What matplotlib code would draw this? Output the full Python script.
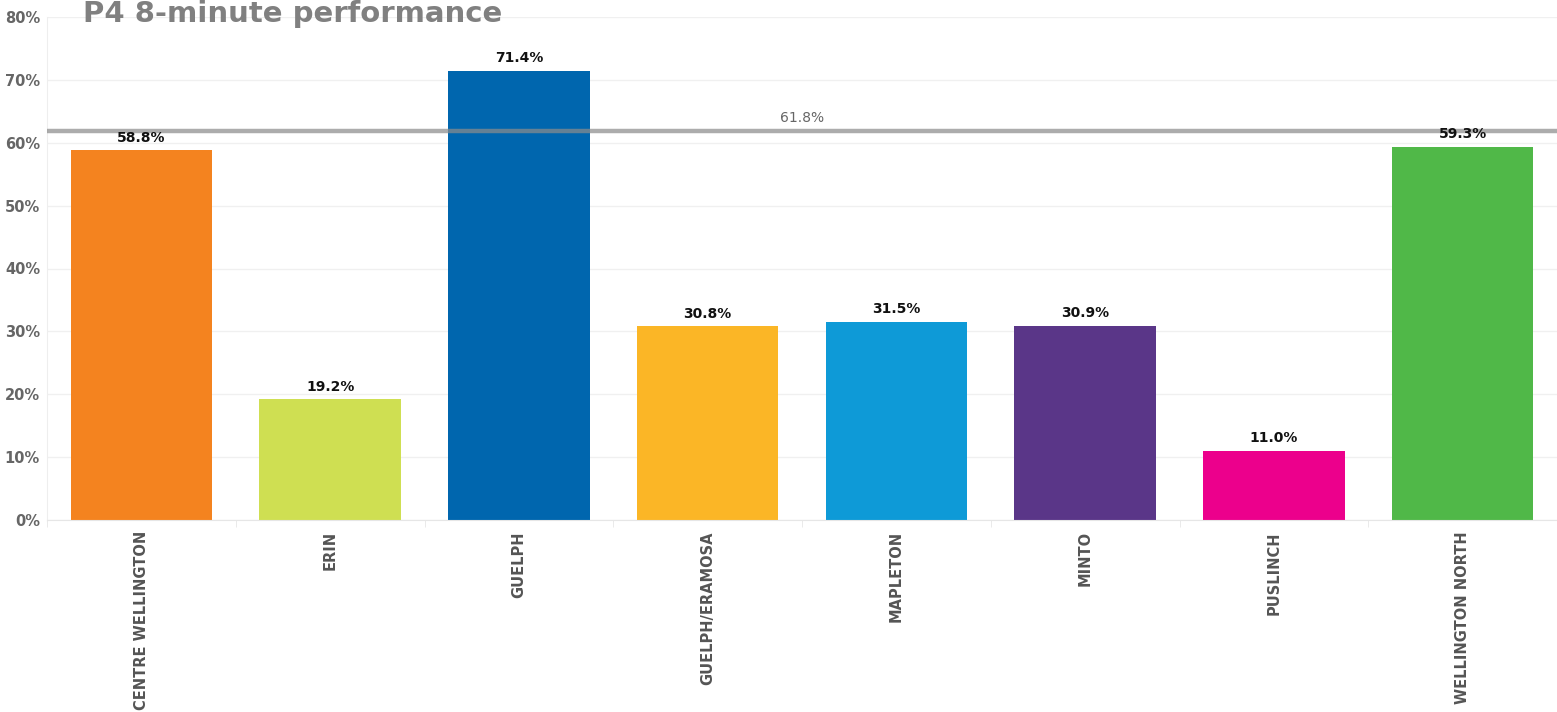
import matplotlib
matplotlib.use("Agg")
import matplotlib.pyplot as plt
import numpy as np
from matplotlib.ticker import FuncFormatter, FixedLocator

plt.rcParams['font.family'] = ['DejaVu Sans']

categories = ["CENTRE WELLINGTON", "ERIN", "GUELPH", "GUELPH/ERAMOSA",
              "MAPLETON", "MINTO", "PUSLINCH", "WELLINGTON NORTH"]
values = [58.8, 19.2, 71.4, 30.8, 31.5, 30.9, 11.0, 59.3]
average = 61.8
colors = ["#F4831F", "#CFDF52", "#0066AE", "#FBB626",
          "#0E9AD7", "#5A3688", "#EC008C", "#50B848"]
y_ticks = [0, 10, 20, 30, 40, 50, 60, 70, 80]

W, H = 1557, 712
fig = plt.figure(figsize=(W / 100, H / 100), dpi=100)
left, right, top, bottom = 47, 1557, 17, 520
ax = fig.add_axes([left / W, 1 - bottom / H, (right - left) / W, (bottom - top) / H])

x = np.arange(len(categories))
ax.bar(x, values, width=0.75, color=colors, zorder=2)
for xi, v in zip(x, values):
    ax.text(xi, v + 0.9, f"{v:.1f}%", ha='center', va='bottom',
            fontsize=10, fontweight='bold', color='#111111', zorder=4)

ax.axhline(average, color='#8c8c8c', alpha=0.72, linewidth=3.2, zorder=3)
ax.text(3.5, average + 1.0, f"{average:.1f}%", ha='center', va='bottom',
        fontsize=10, color='#666666', zorder=4)

ax.set_xlim(-0.5, len(categories) - 0.5)
ax.set_ylim(0, 80)
ax.set_yticks(y_ticks)
ax.yaxis.set_major_formatter(FuncFormatter(lambda v, p: f"{v:.0f}%"))
ax.set_xticks(x)
ax.set_xticklabels(categories, rotation=90, fontsize=10.5, fontweight='bold', color='#555555')
ax.xaxis.set_minor_locator(FixedLocator(np.arange(-0.5, len(categories), 1.0)))
ax.tick_params(axis='x', which='major', length=0, pad=8)
ax.tick_params(axis='x', which='minor', length=5, color='#e6e6e6')
ax.tick_params(axis='y', length=0, pad=5, labelsize=10.5, labelcolor='#666666')
for lbl in ax.get_yticklabels():
    lbl.set_fontweight('bold')

ax.grid(axis='y', color='#f0f0f0', linewidth=1, zorder=0)
ax.set_axisbelow(True)
for s in ['top', 'right']:
    ax.spines[s].set_visible(False)
ax.spines['left'].set_color('#eeeeee')
ax.spines['bottom'].set_color('#e6e6e6')

fig.text(83 / W, 1 - 14 / H, "P4 8-minute performance", ha='left', va='center',
         fontsize=21, fontweight='bold', color='#808080')

fig.savefig("out.png", dpi=100)
